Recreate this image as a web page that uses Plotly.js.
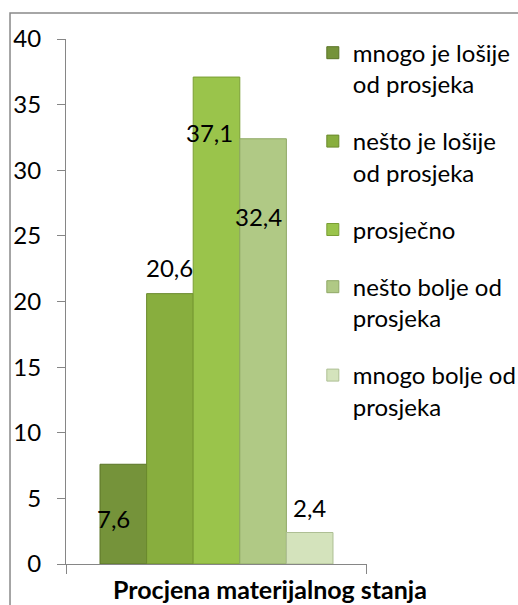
<!DOCTYPE html>
<html>
<head>
<meta charset="utf-8">
<script src="https://cdn.plot.ly/plotly-3.0.1.min.js"></script>
<style>
html,body{margin:0;padding:0;background:#fff;}
#chart{width:518px;height:605px;}
</style>
</head>
<body>
<div id="chart"></div>
<script>
// Data
const seriesNames = [
  "mnogo je lošije<br>od prosjeka",
  "nešto je lošije<br>od prosjeka",
  "prosječno",
  "nešto bolje od<br>prosjeka",
  "mnogo bolje od<br>prosjeka"
];
const seriesValues = [7.6, 20.6, 37.1, 32.4, 2.4];
const categoryLabel = "Procjena materijalnog stanja";
const yTicks = [0, 5, 10, 15, 20, 25, 30, 35, 40];

// Styles
const colors = ["#75933A", "#88AE3E", "#9AC44B", "#B0C985", "#D4E3BC"];
const lineColors = ["#5A7426", "#6A8A2C", "#7A9E34", "#8FA866", "#AEBF94"];
const labelShift = [
  {dx: -10, dy: -54},
  {dx: 0, dy: 26},
  {dx: -7, dy: -55},
  {dx: -5, dy: -78},
  {dx: 0, dy: 25}
];
const FONT = "Lato, 'Open Sans', sans-serif";

const traces = seriesValues.map((v, i) => ({
  type: "bar",
  name: seriesNames[i],
  x: [i],
  y: [v],
  width: [1],
  legendgroup: "g" + i,
  marker: {color: colors[i], line: {color: lineColors[i], width: 1}},
  hoverinfo: "none"
}));

const annotations = seriesValues.map((v, i) => ({
  x: i, y: v, xref: "x", yref: "y",
  text: v.toFixed(1).replace(".", ","),
  showarrow: false,
  xshift: labelShift[i].dx,
  yshift: labelShift[i].dy,
  font: {family: FONT, size: 24, color: "#000"}
}));
annotations.push({
  xref: "paper", yref: "paper", x: 0.678, y: -0.047,
  xanchor: "center", yanchor: "middle", showarrow: false,
  text: "<b>" + categoryLabel + "</b>",
  font: {family: FONT, size: 25, color: "#000"}
});

const layout = {
  width: 518, height: 605,
  margin: {l: 66, r: 151, t: 39, b: 41, autoexpand: false},
  paper_bgcolor: "#fff", plot_bgcolor: "#fff",
  showlegend: true,
  legend: {
    x: 0.82, xanchor: "left", y: 1.016, yanchor: "top",
    xref: "paper", yref: "paper",
    font: {family: FONT, size: 24, color: "#000"},
    valign: "top",
    tracegroupgap: 23,
    itemwidth: 30,
    maxheight: 600,
    bgcolor: "rgba(0,0,0,0)"
  },
  xaxis: {
    range: [-1.23, 5.23],
    tickvals: [-1.228, 5.228],
    ticktext: ["", ""],
    ticks: "outside", ticklen: 9, tickcolor: "#868686",
    showline: true, linecolor: "#868686", linewidth: 1,
    showgrid: false, zeroline: false, fixedrange: true
  },
  yaxis: {
    range: [0, 40],
    tickvals: yTicks,
    ticks: "outside", ticklen: 8, tickcolor: "#868686",
    ticklabelstandoff: 11,
    showline: true, linecolor: "#868686", linewidth: 1,
    showgrid: false, zeroline: false, fixedrange: true,
    tickfont: {family: FONT, size: 24, color: "#000"}
  },
  annotations: annotations,
  shapes: [{
    type: "rect", xref: "paper", yref: "paper",
    x0: -0.186, x1: 1.6, y0: -0.15, y1: 1.0495,
    line: {color: "#898989", width: 1.5}, fillcolor: "rgba(0,0,0,0)", layer: "below"
  }]
};

Plotly.newPlot("chart", traces, layout, {displayModeBar: false, staticPlot: true});
</script>
</body>
</html>
